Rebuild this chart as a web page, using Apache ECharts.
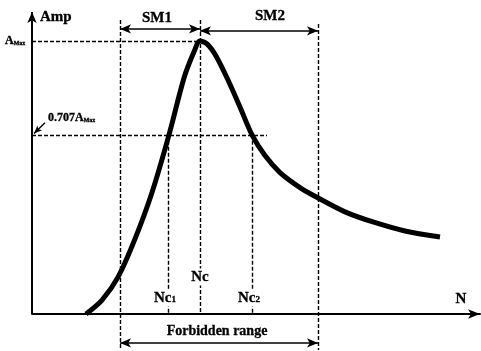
<!DOCTYPE html>
<html>
<head>
<meta charset="utf-8">
<script src="https://cdn.jsdelivr.net/npm/echarts@6/dist/echarts.min.js"></script>
<style>html,body{margin:0;padding:0;background:#fff}#c{width:481px;height:351px}</style>
</head>
<body>
<div id="c"></div>
<script>
// Resonance curve (N in arbitrary units, Amp relative to AMax)
var curveN   = [54, 70, 86, 103, 120, 137, 152, 162, 168, 175, 184, 196, 208, 220, 233, 248, 268, 286, 313, 341, 373, 408];
var curveAmp = [0, 0.051, 0.135, 0.275, 0.445, 0.656, 0.864, 0.960, 1.0, 0.989, 0.945, 0.857, 0.758, 0.656, 0.580, 0.518, 0.463, 0.425, 0.374, 0.337, 0.304, 0.282];

// Key marks
var ampMax = 1.0;
var ampHalf = 0.656;        // level drawn for 0.707 AMax
var nSM1 = 88, nC1 = 136, nC = 168, nC2 = 220, nSM2 = 286;
var ampTopSM1 = 1.077, ampTopSM2 = 1.062;
var ampArrowSM1 = 1.044, ampArrowSM2 = 1.037, ampForbidden = -0.106;
var ampBottom = -0.132, ampTop = 1.106, nMax = 448;
var halfLineEnd = 235;

var labels = {amp: 'Amp', sm1: 'SM1', sm2: 'SM2', nc: 'Nc', n: 'N', forbidden: 'Forbidden range'};

var chart = echarts.init(document.getElementById('c'), null, {renderer: 'canvas'});
var serif = 'Liberation Serif';
var dash = {color: '#000', width: 1.4, type: [4, 2]};
var solid = {color: '#000', width: 1.6, type: 'solid'};

function seg(x0, y0, x1, y1, ls, s0, s1) {
  return [
    {coord: [x0, y0], symbol: s0 || 'none', symbolSize: [7, 11], lineStyle: ls},
    {coord: [x1, y1], symbol: s1 || 'none', symbolSize: [7, 11]}
  ];
}

var data = curveN.map(function (n, i) { return [n, curveAmp[i]]; });

var markData = [
  seg(0, 0, 0, ampTop, {color: '#000', width: 2, type: 'solid'}, 'none', 'arrow'),
  seg(0, ampMax, nC, ampMax, dash),
  seg(0, ampHalf, halfLineEnd, ampHalf, dash),
  seg(nSM1, ampTopSM1, nSM1, ampBottom, dash),
  seg(nC, ampTopSM1, nC, 0, dash),
  seg(nC1, ampHalf, nC1, 0, dash),
  seg(nC2, ampHalf, nC2, 0, dash),
  seg(nSM2, ampTopSM2, nSM2, ampBottom, dash),
  seg(nSM1, ampArrowSM1, nC, ampArrowSM1, solid, 'arrow', 'arrow'),
  seg(nC, ampArrowSM2, nSM2, ampArrowSM2, solid, 'arrow', 'arrow'),
  seg(nSM1, ampForbidden, nSM2, ampForbidden, solid, 'arrow', 'arrow'),
  [
    {coord: [2, ampHalf + 0.005], symbol: 'arrow', symbolSize: [5, 8], lineStyle: {color: '#000', width: 1.4, type: 'solid'}},
    {coord: [13, 0.70], symbol: 'none'}
  ]
];

function fnt(size) { return 'bold ' + size + 'px "' + serif + '"'; }
function txt(x, y, text, size, align, rich, bg) {
  var st = {text: text, fill: '#000', font: fnt(size), textAlign: align || 'center', textVerticalAlign: 'middle',
            stroke: '#000', lineWidth: 0.3};
  if (rich) st.rich = rich;
  if (bg) { st.backgroundColor = '#fff'; st.padding = [1, 1]; }
  return {type: 'text', x: x, y: y, z: 100, style: st};
}
var subRich = function (main, sub) {
  return {
    m: {font: fnt(main), fontWeight: 'bold', fontSize: main, fontFamily: serif, fill: '#000', stroke: '#000', lineWidth: 0.3},
    s: {font: fnt(sub), fontWeight: 'bold', fontSize: sub, fontFamily: serif, fill: '#000', padding: [4, 0, 0, 0]}
  };
};

chart.setOption({
  animation: false,
  grid: {left: 32, right: 1, top: 12, bottom: 1, containLabel: false},
  xAxis: {
    type: 'value', min: 0, max: nMax,
    axisLine: {show: true, onZero: true, symbol: ['none', 'arrow'], symbolSize: [7, 12], lineStyle: {color: '#000', width: 2}},
    axisTick: {show: false}, axisLabel: {show: false}, splitLine: {show: false}
  },
  yAxis: {
    type: 'value', min: ampBottom, max: ampTop,
    axisLine: {show: false}, axisTick: {show: false}, axisLabel: {show: false}, splitLine: {show: false}
  },
  series: [{
    type: 'line',
    data: data,
    smooth: 0.3,
    showSymbol: false,
    clip: false,
    lineStyle: {color: '#000', width: 5},
    markLine: {silent: true, animation: false, label: {show: false}, data: markData}
  }],
  graphic: [
    txt(40, 17, labels.amp, 15, 'left'),
    txt(157, 18, labels.sm1, 15),
    txt(270, 16, labels.sm2, 15),
    txt(5, 41, '{m|A}{s|Max}', 11, 'left', subRich(12, 6)),
    txt(48, 118, '{m|0.707A}{s|Max}', 12, 'left', subRich(12, 6)),
    txt(200, 277, labels.nc, 15, 'center', null, true),
    txt(165, 298, '{m|Nc}{s|1}', 15, 'center', subRich(15, 9), true),
    txt(249, 298, '{m|Nc}{s|2}', 15, 'center', subRich(15, 9), true),
    txt(461, 299, labels.n, 15),
    txt(217, 331, labels.forbidden, 14)
  ]
});
</script>
</body>
</html>
